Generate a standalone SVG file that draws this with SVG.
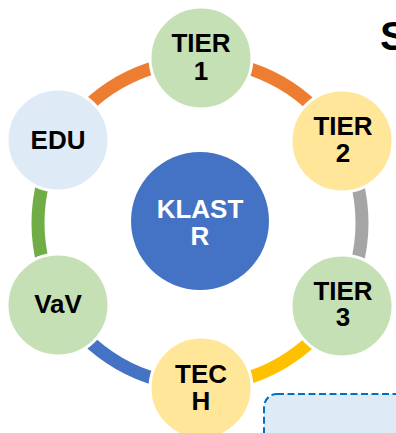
<svg xmlns="http://www.w3.org/2000/svg" width="396" height="433" viewBox="0 0 396 433">
<style>
.arc{fill:none;stroke-width:13}
.node{stroke:#fff;stroke-width:3}
.lbl{font-family:"Liberation Sans",Arial,sans-serif;font-weight:bold;font-size:26px;fill:#000;text-anchor:middle}
.cl{fill:#fff}
</style>
<rect width="396" height="433" fill="#fff"/>
<text x="380" y="50" font-family="Liberation Sans,Arial,sans-serif" font-weight="bold" font-size="41" fill="#000">S</text>
<rect x="264" y="394" width="160" height="80" rx="13" fill="#DEEBF7" stroke="#0070C0" stroke-width="2" stroke-dasharray="7,3.5"/>
<g id="connectors">
<path class="arc" stroke="#ED7D31" d="M200 61 A162 162 0 0 1 340.3 142"/>
<path class="arc" stroke="#A5A5A5" d="M340.3 142 A162 162 0 0 1 340.3 304"/>
<path class="arc" stroke="#FFC000" d="M340.3 304 A162 162 0 0 1 200 385"/>
<path class="arc" stroke="#4472C4" d="M200 385 A162 162 0 0 1 59.7 304"/>
<path class="arc" stroke="#70AD47" d="M59.7 304 A162 162 0 0 1 59.7 142"/>
<path class="arc" stroke="#ED7D31" d="M59.7 142 A162 162 0 0 1 200 61"/>
</g>
<g id="klastr">
<circle cx="200" cy="221" r="69" fill="#4472C4"/>
<text class="lbl cl" x="200" y="218">KLAST<tspan x="200" dy="27">R</tspan></text>
</g>
<g id="tier1">
<circle class="node" cx="201" cy="58" r="51" fill="#C5E0B4"/>
<text class="lbl" x="201" y="52">TIER<tspan x="201" dy="28">1</tspan></text>
</g>
<g id="tier2">
<circle class="node" cx="342" cy="141" r="51" fill="#FFE699"/>
<text class="lbl" x="343" y="135">TIER<tspan x="343" dy="27">2</tspan></text>
</g>
<g id="tier3">
<circle class="node" cx="342" cy="306" r="51" fill="#C5E0B4"/>
<text class="lbl" x="343" y="300">TIER<tspan x="343" dy="26">3</tspan></text>
</g>
<g id="tech">
<circle class="node" cx="201" cy="388" r="51" fill="#FFE699"/>
<text class="lbl" x="201" y="383">TEC<tspan x="201" dy="27">H</tspan></text>
</g>
<g id="vav">
<circle class="node" cx="58" cy="305" r="51" fill="#C5E0B4"/>
<text class="lbl" x="58" y="313">VaV</text>
</g>
<g id="edu">
<circle class="node" cx="58" cy="140" r="51" fill="#DEEBF7"/>
<text class="lbl" x="58" y="149">EDU</text>
</g>
</svg>
